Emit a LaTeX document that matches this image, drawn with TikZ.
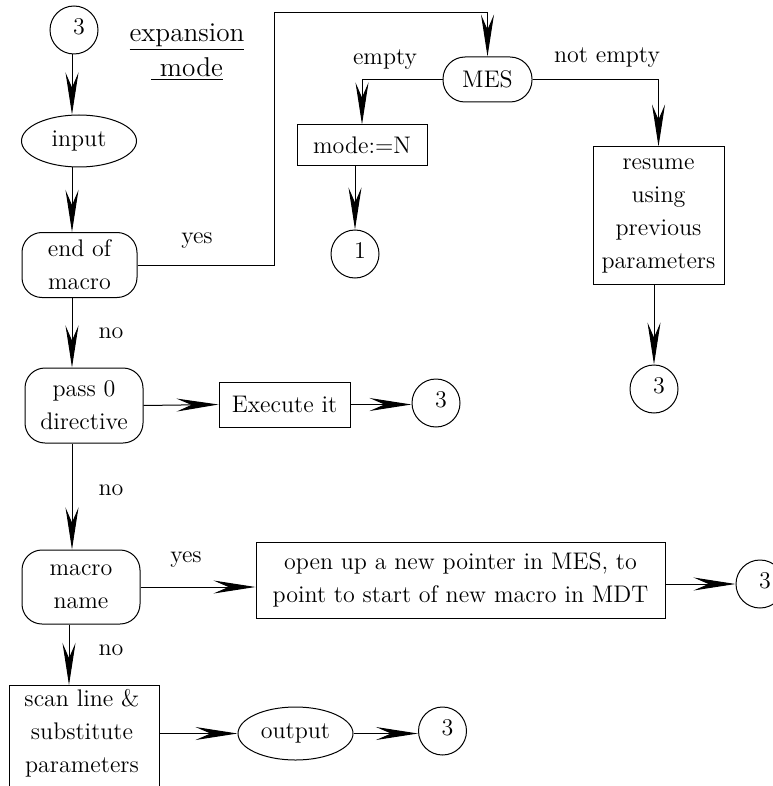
\documentclass[tikz,border=0pt]{standalone}
\usetikzlibrary{arrows.meta,shapes.geometric}
\newcommand\cnum[1]{\raisebox{3.5pt}{\hspace{5pt}#1}}
\begin{document}
\begin{tikzpicture}[x=0.5pt,y=-0.5pt,
  every node/.style={font=\fontsize{12}{16.5}\selectfont, inner sep=1.5pt},
  line/.style={line width=0.5pt},
  arr/.style={line width=0.5pt, -{Stealth[length=21pt,width=6.5pt,inset=7.5pt]}},
  circ/.style={draw, circle, minimum size=24pt, inner sep=0pt, line width=0.5pt},
  oval/.style={draw, ellipse, minimum width=57.5pt, minimum height=26pt, inner sep=0pt, line width=0.5pt},
  rbox/.style={draw, rounded corners=10pt, align=center, line width=0.5pt},
  sbox/.style={draw, rectangle, align=center, line width=0.5pt}]
\useasboundingbox (0,0) rectangle (772,786);

% nodes
\node[circ] (c3a) at (74,30) {\cnum{3}};
\node[font=\fontsize{13.6}{17.5}\selectfont, align=center] (title) at (187,52) {\underline{expansion}\\\underline{\ mode}};
\node[oval] (input) at (79,141) {input};
\node[rbox, minimum width=57.5pt, minimum height=32.5pt] (eom) at (79.5,265) {end of\\macro};
\node[rbox, rounded corners=11pt, minimum width=44.5pt, minimum height=22.5pt] (mes) at (487.5,79.5) {MES};
\node[sbox, minimum width=65pt, minimum height=20.5pt] (modeN) at (362,145.5) {mode:=N};
\node[circ] (c1) at (355,254) {\cnum{1}};
\node[sbox, minimum width=65.5pt, minimum height=68.5pt] (resume) at (658.5,215.5) {resume\\using\\previous\\parameters};
\node[circ] (c3b) at (654,389) {\cnum{3}};
\node[rbox, minimum width=59pt, minimum height=37.5pt] (pass) at (84,405.5) {pass 0\\directive};
\node[sbox, minimum width=65.5pt, minimum height=22.5pt] (exec) at (284.5,404.5) {Execute it};
\node[circ] (c3c) at (436,403) {\cnum{3}};
\node[rbox, minimum width=59pt, minimum height=37pt] (mname) at (81,587) {macro\\name};
\node[sbox, minimum width=204.5pt, minimum height=38pt] (big) at (460.5,580) {open up a new pointer in MES, to\\point to start of new macro in MDT};
\node[circ] (c3d) at (760,584) {\cnum{3}};
\node[draw, line width=0.5pt, minimum width=75pt, minimum height=60pt, anchor=north] (scan) at (84,685) {};
\node[align=center] (scantxt) at (82,733) {scan line \&\\substitute\\parameters};
\node[oval, minimum height=26.5pt] (out) at (295.5,733.5) {output};
\node[circ] (c3e) at (442.5,731) {\cnum{3}};

% labels
\node (lyes1) at (197,241) {yes};
\node (lempty) at (385,60) {empty};
\node (lnotempty) at (607,58) {not empty};
\node (lno1) at (111,333) {no};
\node (lno2) at (111,490) {no};
\node (lyes2) at (186,560) {yes};
\node (lno3) at (111,650) {no};

% connectors
\coordinate (colA) at (72,0);
\coordinate (colB) at (69,0);
\coordinate (j1) at (274,13);
\draw[arr] (c3a.south -| colA) -- (input.north -| colA);
\draw[arr] (input.south -| colA) -- (eom.north -| colA);
\draw[arr] (eom.east) -| (j1) -| (mes.north);
\draw[arr] (eom.south -| colA) -- (pass.north -| colA);
\draw[arr] (mes.west) -| (modeN.north);
\draw[arr] (mes.east) -| (resume.north);
\draw[arr] (c1.north |- modeN.south) -- (c1.north);
\draw[arr] (c3b.north |- resume.south) -- (c3b.north);
\draw[arr] (pass.east) -- (exec.west);
\draw[arr] (exec.east) -- (exec.east -| c3c.west);
\draw[arr] (pass.south -| colA) -- (mname.north -| colA);
\draw[arr] (mname.east) -- (mname.east -| big.west);
\draw[arr] (big.east |- c3d.west) -- (c3d.west);
\draw[arr] (mname.south -| colB) -- (scan.north -| colB);
\draw[arr] (scan.east |- out.west) -- (out.west);
\draw[arr] (out.east) -- (out.east -| c3e.west);
\end{tikzpicture}
\end{document}
